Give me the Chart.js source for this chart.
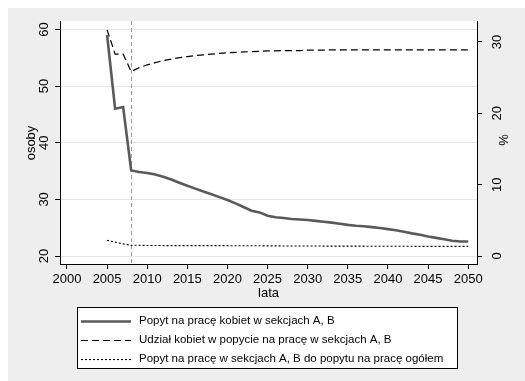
<!DOCTYPE html>
<html>
<head>
<meta charset="utf-8">
<script src="https://cdn.jsdelivr.net/npm/chart.js@4"></script>
<style>
  html, body { margin: 0; padding: 0; background: #fff; }
  #wrap { width: 525px; height: 381px; position: relative; }
</style>
</head>
<body>
<div id="wrap"><canvas id="chart" width="525" height="381"></canvas></div>
<script>
// lata
const years = [2005, 2006, 2007, 2008, 2009, 2010, 2011, 2012, 2013, 2014,
  2015, 2016, 2017, 2018, 2019, 2020, 2021, 2022, 2023, 2024,
  2025, 2026, 2027, 2028, 2029, 2030, 2031, 2032, 2033, 2034,
  2035, 2036, 2037, 2038, 2039, 2040, 2041, 2042, 2043, 2044,
  2045, 2046, 2047, 2048, 2049, 2050];

// Popyt na pracę kobiet w sekcjach A, B (osoby)
const popytKobiet = [59.0, 46.0, 46.3, 35.1, 34.85, 34.65, 34.4, 34.0, 33.5, 32.95,
  32.4, 31.9, 31.4, 30.9, 30.4, 29.9, 29.3, 28.65, 28.0, 27.7,
  27.1, 26.85, 26.7, 26.55, 26.45, 26.35, 26.2, 26.05, 25.9, 25.7,
  25.5, 25.35, 25.25, 25.1, 24.95, 24.75, 24.55, 24.3, 24.0, 23.75,
  23.45, 23.2, 22.95, 22.7, 22.55, 22.55];

// Udział kobiet w popycie na pracę w sekcjach A, B (%)
const udzialKobiet = [31.7, 28.3, 28.3, 25.85, 26.4, 26.8, 27.1, 27.4, 27.6, 27.8,
  27.95, 28.1, 28.2, 28.3, 28.4, 28.5, 28.55, 28.6, 28.65, 28.7,
  28.75, 28.75, 28.8, 28.8, 28.8, 28.85, 28.85, 28.85, 28.9, 28.9,
  28.9, 28.9, 28.9, 28.9, 28.9, 28.9, 28.9, 28.9, 28.9, 28.9,
  28.9, 28.9, 28.9, 28.9, 28.9, 28.9];

// Popyt na pracę w sekcjach A, B do popytu na pracę ogółem (%)
const udzialAB = [2.2, 1.95, 1.7, 1.5, 1.5, 1.48, 1.47, 1.46, 1.46, 1.45,
  1.45, 1.45, 1.45, 1.45, 1.45, 1.45, 1.44, 1.44, 1.43, 1.43,
  1.42, 1.42, 1.41, 1.41, 1.40, 1.40, 1.40, 1.39, 1.39, 1.39,
  1.38, 1.38, 1.38, 1.37, 1.37, 1.37, 1.36, 1.36, 1.36, 1.35,
  1.35, 1.35, 1.35, 1.35, 1.35, 1.35];

const xTicks = [2000, 2005, 2010, 2015, 2020, 2025, 2030, 2035, 2040, 2045, 2050];
const leftTicks = [20, 30, 40, 50, 60];
const rightTicks = [0, 10, 20, 30];
const markerYear = 2008;

const legendLabels = [
  'Popyt na pracę kobiet w sekcjach A, B',
  'Udział kobiet w popycie na pracę w sekcjach A, B',
  'Popyt na pracę w sekcjach A, B do popytu na pracę ogółem'
];

const FONT = '"Liberation Sans", Arial, sans-serif';

function toPoints(vals) {
  return years.map((y, i) => ({ x: y, y: vals[i] }));
}

// tło, linia pionowa, rotowane etykiety, legenda
const stataPlugin = {
  id: 'stata',
  beforeDraw(chart) {
    const ctx = chart.ctx;
    const a = chart.chartArea;
    ctx.save();
    ctx.fillStyle = '#ffffff';
    ctx.fillRect(0, 0, chart.width, chart.height);
    ctx.fillStyle = '#eeeeee';
    ctx.fillRect(8, 8, chart.width - 8, chart.height - 8);
    ctx.fillStyle = '#ffffff';
    ctx.fillRect(a.left, a.top, a.right - a.left, a.bottom - a.top);
    ctx.restore();
  },
  beforeDatasetsDraw(chart) {
    const ctx = chart.ctx;
    const a = chart.chartArea;
    const x = Math.round(chart.scales.x.getPixelForValue(markerYear)) + 0.5;
    ctx.save();
    ctx.strokeStyle = '#9a9a9a';
    ctx.lineWidth = 1;
    ctx.setLineDash([4, 3]);
    ctx.beginPath();
    ctx.moveTo(x, a.top);
    ctx.lineTo(x, a.bottom);
    ctx.stroke();
    ctx.restore();
  },
  afterDraw(chart) {
    const ctx = chart.ctx;
    const yL = chart.scales.y;
    const yR = chart.scales.y1;
    const xs = chart.scales.x;
    ctx.save();
    ctx.fillStyle = '#000';
    ctx.textAlign = 'center';
    ctx.textBaseline = 'middle';
    ctx.font = '13px ' + FONT;

    // etykiety osi pionowych (obrócone)
    leftTicks.forEach(v => {
      ctx.save();
      ctx.translate(44, yL.getPixelForValue(v));
      ctx.rotate(-Math.PI / 2);
      ctx.fillText(String(v), 0, 0);
      ctx.restore();
    });
    rightTicks.forEach(v => {
      ctx.save();
      ctx.translate(497, yR.getPixelForValue(v));
      ctx.rotate(-Math.PI / 2);
      ctx.fillText(String(v), 0, 0);
      ctx.restore();
    });

    // tytuły osi
    ctx.save();
    ctx.translate(31, 143);
    ctx.rotate(-Math.PI / 2);
    ctx.fillText('osoby', 0, 0);
    ctx.restore();
    ctx.save();
    ctx.translate(504, 140);
    ctx.rotate(-Math.PI / 2);
    ctx.fillText('%', 0, 0);
    ctx.restore();
    ctx.fillText('lata', (xs.left + xs.right) / 2, 293);

    // legenda
    ctx.fillStyle = '#ffffff';
    ctx.fillRect(77, 307, 380, 61);
    ctx.strokeStyle = '#000';
    ctx.lineWidth = 1;
    ctx.strokeRect(77.5, 307.5, 380, 61);

    const rows = [321, 340, 359];
    const ds = chart.data.datasets;
    rows.forEach((ry, i) => {
      const d = ds[i];
      ctx.save();
      ctx.strokeStyle = d.borderColor;
      ctx.lineWidth = d.borderWidth;
      ctx.setLineDash(d.borderDash || []);
      ctx.beginPath();
      ctx.moveTo(81, ry + 0.5);
      ctx.lineTo(131, ry + 0.5);
      ctx.stroke();
      ctx.restore();
    });
    ctx.fillStyle = '#000';
    ctx.textAlign = 'left';
    ctx.font = '11.5px ' + FONT;
    rows.forEach((ry, i) => ctx.fillText(legendLabels[i], 139, ry));
    ctx.restore();
  }
};

new Chart(document.getElementById('chart'), {
  type: 'line',
  data: {
    datasets: [
      {
        label: legendLabels[0],
        data: toPoints(popytKobiet),
        yAxisID: 'y',
        borderColor: '#5a5a5a',
        borderWidth: 2.6,
        pointRadius: 0,
        tension: 0
      },
      {
        label: legendLabels[1],
        data: toPoints(udzialKobiet),
        yAxisID: 'y1',
        borderColor: '#000000',
        borderWidth: 1.2,
        borderDash: [7, 4],
        pointRadius: 0,
        tension: 0
      },
      {
        label: legendLabels[2],
        data: toPoints(udzialAB),
        yAxisID: 'y1',
        borderColor: '#000000',
        borderWidth: 1.1,
        borderDash: [2, 2],
        pointRadius: 0,
        tension: 0
      }
    ]
  },
  options: {
    responsive: false,
    animation: false,
    layout: { padding: { top: 21, left: 0, right: 0, bottom: 0 } },
    plugins: {
      legend: { display: false },
      tooltip: { enabled: false }
    },
    scales: {
      x: {
        type: 'linear',
        min: 1999.13,
        max: 2051.1,
        afterBuildTicks: s => { s.ticks = xTicks.map(v => ({ value: v })); },
        afterFit: s => { s.height = 117; },
        border: { display: true, color: '#000', width: 1 },
        grid: { drawOnChartArea: false, drawTicks: true, tickLength: 5, tickColor: '#000' },
        ticks: {
          color: '#000',
          font: { family: FONT, size: 13 },
          padding: 3,
          maxRotation: 0,
          callback: v => String(v)
        }
      },
      y: {
        type: 'linear',
        position: 'left',
        min: 18.59,
        max: 61.5,
        afterBuildTicks: s => { s.ticks = leftTicks.map(v => ({ value: v })); },
        afterFit: s => { s.width = 60; },
        border: { display: true, color: '#000', width: 1 },
        grid: { color: '#e6e6e6', drawTicks: true, tickLength: 5, tickColor: '#000' },
        ticks: { display: false }
      },
      y1: {
        type: 'linear',
        position: 'right',
        min: -1.12,
        max: 32.94,
        afterBuildTicks: s => { s.ticks = rightTicks.map(v => ({ value: v })); },
        afterFit: s => { s.width = 48; },
        border: { display: true, color: '#000', width: 1 },
        grid: { drawOnChartArea: false, drawTicks: true, tickLength: 5, tickColor: '#000' },
        ticks: { display: false }
      }
    }
  },
  plugins: [stataPlugin]
});
</script>
</body>
</html>
